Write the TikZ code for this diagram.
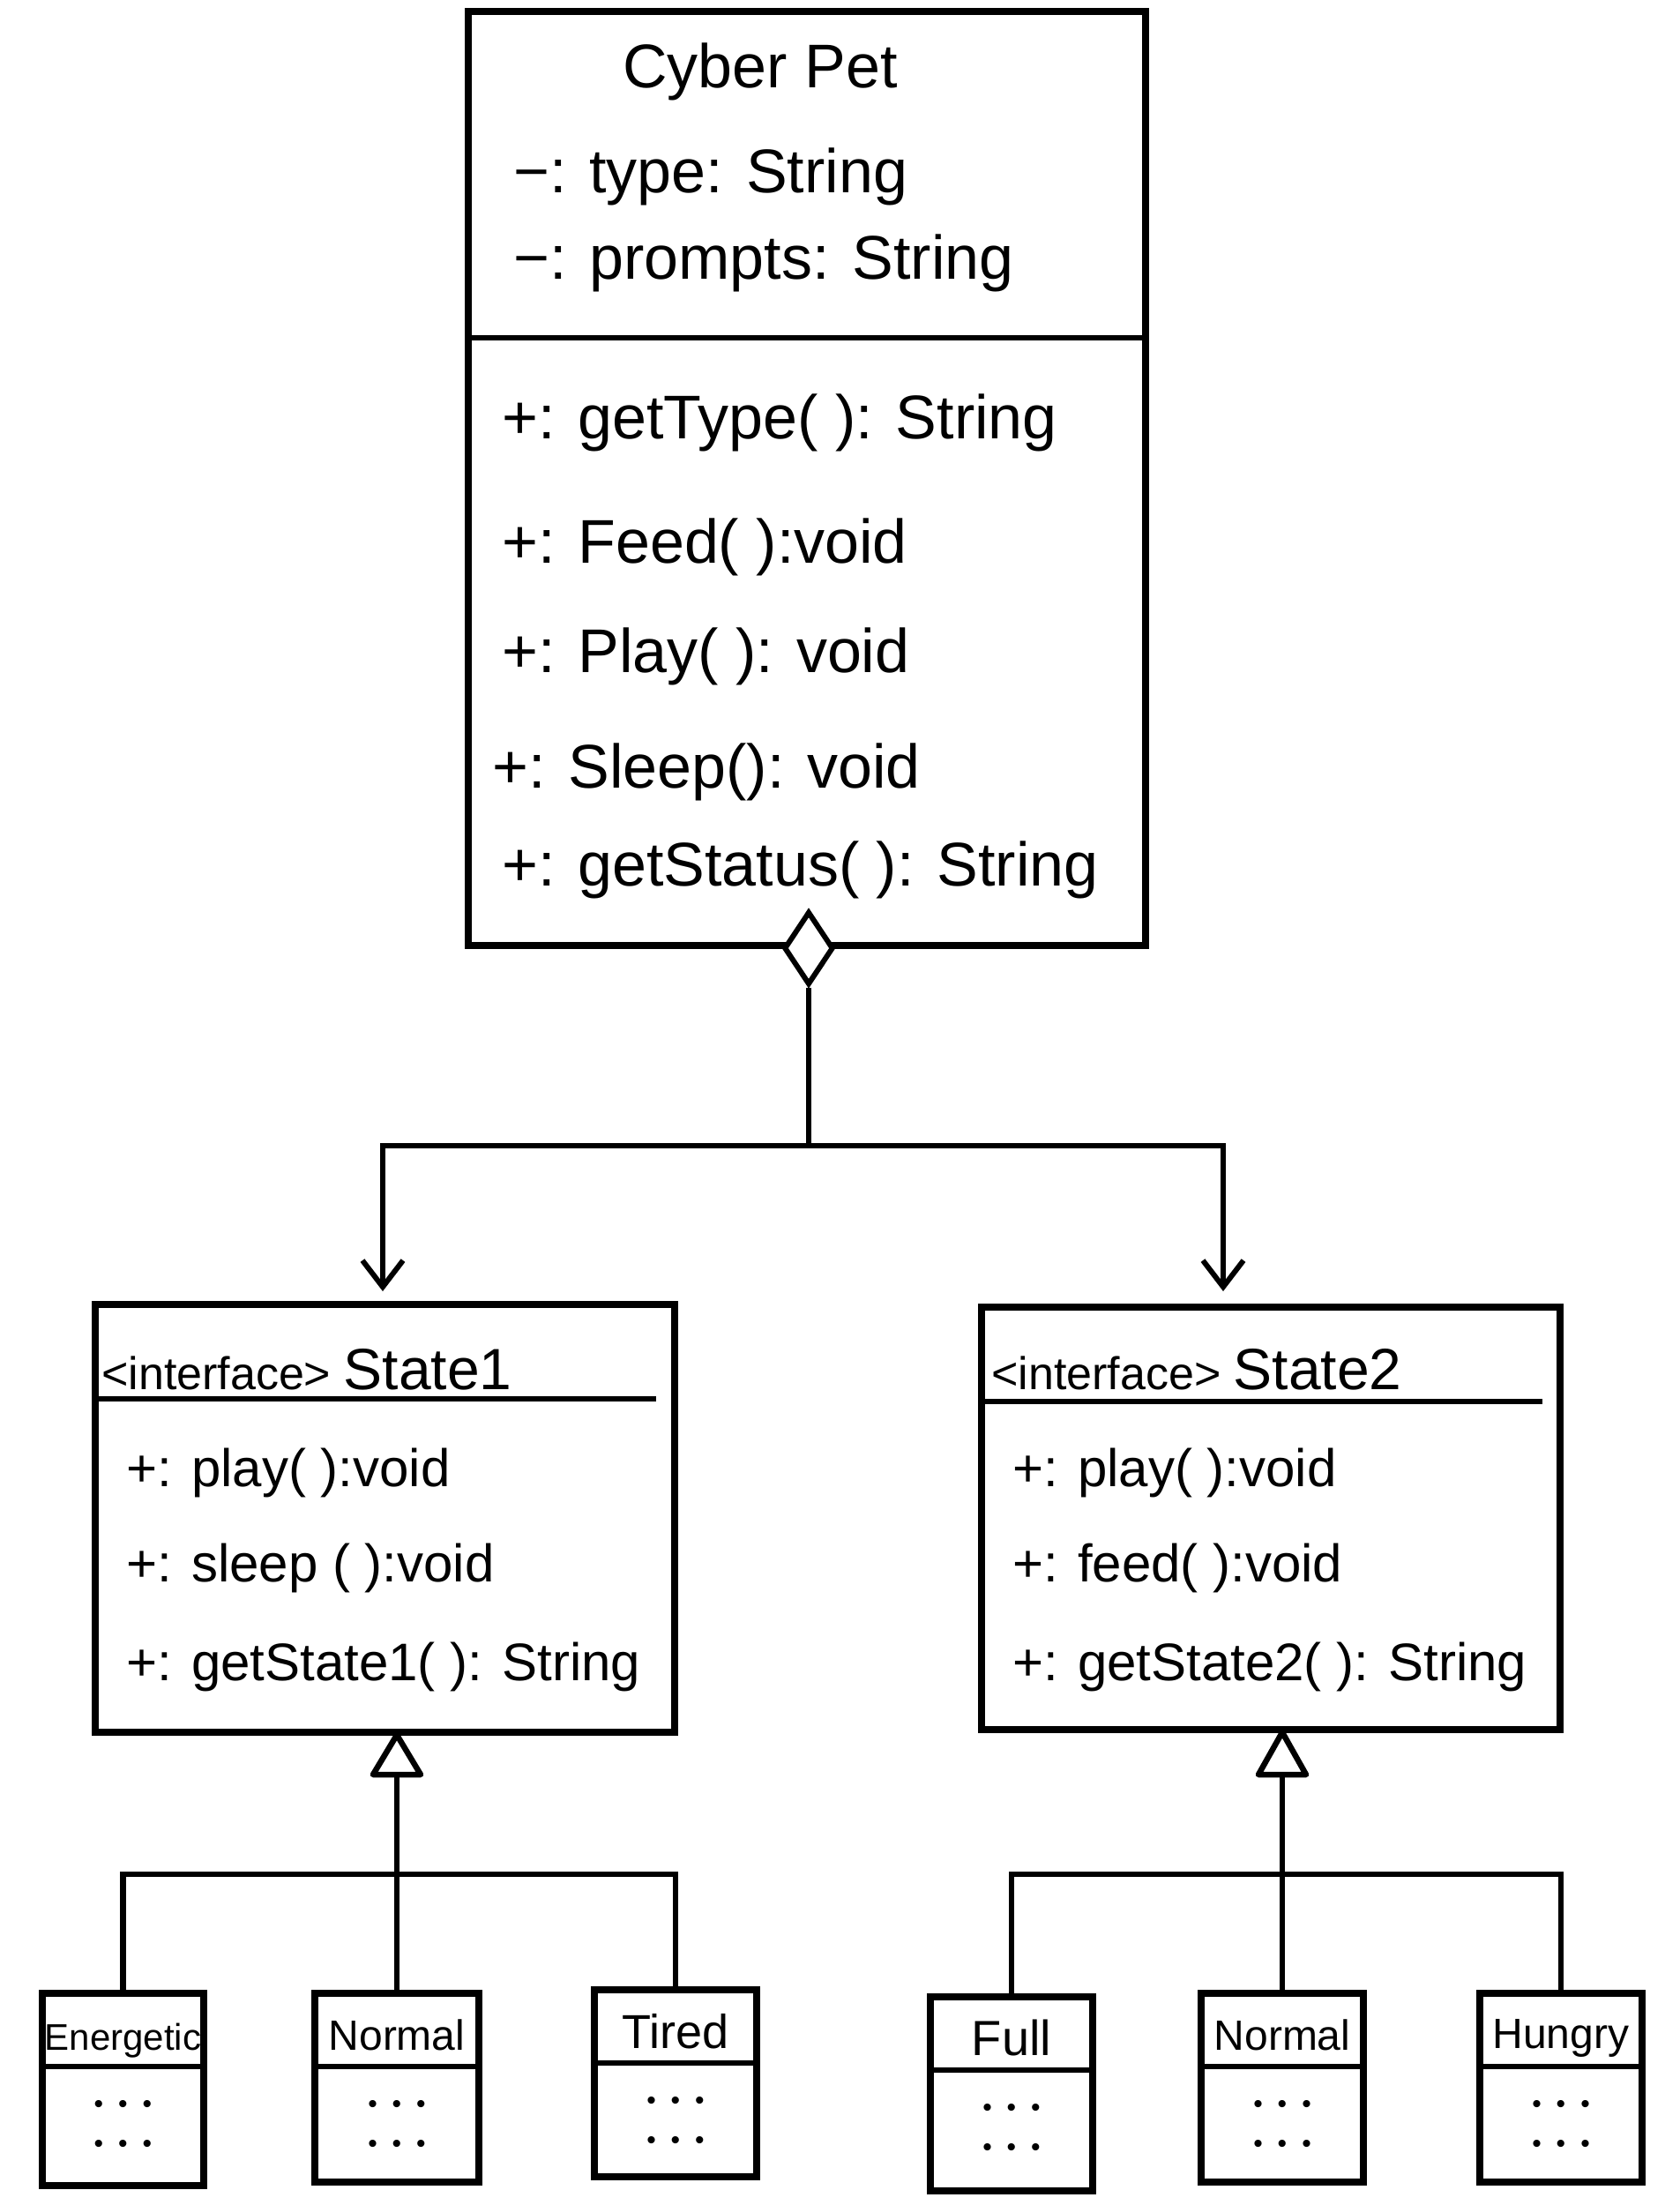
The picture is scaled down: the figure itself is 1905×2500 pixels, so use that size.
\documentclass[tikz,border=0pt]{standalone}
\usepackage{fontspec}
\setmainfont{Liberation Sans}
\usetikzlibrary{arrows.meta,shapes.geometric,calc}
\newcommand{\threedots}{•\hspace{17pt}•\hspace{17pt}•}
\begin{document}
\begin{tikzpicture}[x=1pt,y=-1pt,
  box/.style={draw, line width=7.5pt, rectangle, inner sep=0pt, outer sep=0pt, anchor=north west},
  sepline/.style={line width=6.5pt},
  conn/.style={line width=6.5pt},
  openhead/.style={-{Straight Barb[length=30pt,width=46pt,line width=6pt]}},
  bigtxt/.style={anchor=base west, inner sep=0pt, font=\fontsize{70}{84}\selectfont},
  midtxt/.style={anchor=base west, inner sep=0pt, font=\fontsize{60}{72}\selectfont},
  lbl/.style={anchor=base, inner sep=0pt, font=\fontsize{48}{56}\selectfont},
  dots/.style={anchor=base, inner sep=0pt, font=\fontsize{30}{34}\selectfont}
]
\useasboundingbox (0,0) rectangle (1905,2500);

% ---------- CyberPet ----------
\node[box, minimum width=768pt, minimum height=1059pt] (cp) at (531,13) {};
\draw[sepline] ($(cp.north west)+(0,370)$) -- ($(cp.north east)+(0,370)$);
\node[anchor=base, inner sep=0pt, font=\fontsize{70}{84}\selectfont] (cpname) at (862,99) {Cyber Pet};
\node[bigtxt] (cpa1) at (582,218) {−: type: String};
\node[bigtxt] (cpa2) at (582,316) {−: prompts: String};
\node[bigtxt] (cpm1) at (569,497) {+: getType( ): String};
\node[bigtxt] (cpm2) at (569,638) {+: Feed( ):void};
\node[bigtxt] (cpm3) at (569,762) {+: Play( ): void};
\node[bigtxt] (cpm4) at (558,893) {+: Sleep(): void};
\node[bigtxt] (cpm5) at (569,1004) {+: getStatus( ): String};

% ---------- State1 ----------
\node[box, minimum width=657pt, minimum height=485pt] (s1) at (108,1479) {};
\draw[sepline] ($(s1.north west)+(0,107)$) -- ($(s1.north east)+(-21,107)$);
\node[anchor=base west, inner sep=0pt] (s1name) at (115,1575)
  {\fontsize{52}{60}\selectfont <interface> \fontsize{66}{76}\selectfont State1};
\node[midtxt] (s1m1) at (143,1685) {+: play( ):void};
\node[midtxt] (s1m2) at (143,1793) {+: sleep ( ):void};
\node[midtxt] (s1m3) at (143,1905) {+: getState1( ): String};

% ---------- State2 ----------
\node[box, minimum width=656pt, minimum height=479pt] (s2) at (1113,1482) {};
\draw[sepline] ($(s2.north west)+(0,107)$) -- ($(s2.north east)+(-20,107)$);
\node[anchor=base west, inner sep=0pt] (s2name) at (1124,1575)
  {\fontsize{52}{60}\selectfont <interface> \fontsize{66}{76}\selectfont State2};
\node[midtxt] (s2m1) at (1148,1685) {+: play( ):void};
\node[midtxt] (s2m2) at (1148,1793) {+: feed( ):void};
\node[midtxt] (s2m3) at (1148,1905) {+: getState2( ): String};

% ---------- aggregation ----------
\node[diamond, draw, line width=6pt, fill=white, minimum width=56pt, minimum height=83pt, inner sep=0pt] (dia) at (917,1075) {};
\coordinate (j1) at (917,1299);
\coordinate (a1) at (434,1464);
\coordinate (a2) at (1387,1464);
\draw[conn] (dia.south) -- (j1);
\draw[conn, openhead] (j1) -| (a1);
\draw[conn, openhead] (j1) -| (a2);

% ---------- children of State1 ----------
\node[box, minimum width=183pt, minimum height=218pt] (e1) at (48,2260) {};
\node[box, minimum width=186pt, minimum height=214pt] (n1) at (357,2260) {};
\node[box, minimum width=184pt, minimum height=212pt] (ti) at (674,2256) {};
\foreach \b in {e1,n1,ti}{
  \draw[sepline] ($(\b.north west)+(0,83)$) -- ($(\b.north east)+(0,83)$);
  \node[dots] at ($(\b.north)+(0,135)$) {\threedots};
  \node[dots] at ($(\b.north)+(0,180)$) {\threedots};
}
\node[lbl, font=\fontsize{42}{50}\selectfont] (e1l) at ($(e1.north)+(0,64)$) {Energetic};
\node[lbl] (n1l) at ($(n1.north)+(0,64)$) {Normal};
\node[lbl, font=\fontsize{54}{62}\selectfont] (til) at ($(ti.north)+(0,66)$) {Tired};

\draw[conn, fill=white, line join=round] (450,1967) -- (423,2012) -- (477,2012) -- cycle;
\coordinate (t1b) at (450,2012);
\coordinate (j2) at (450,2125);
\draw[conn] (t1b) -- (j2);
\draw[conn] (e1.north) |- (j2) -| (ti.north);
\draw[conn] (j2) -- (n1.north);

% ---------- children of State2 ----------
\node[box, minimum width=184pt, minimum height=220pt] (fu) at (1055,2264) {};
\node[box, minimum width=184pt, minimum height=214pt] (n2) at (1362,2260) {};
\node[box, minimum width=184pt, minimum height=214pt] (hu) at (1678,2260) {};
\foreach \b in {fu,n2,hu}{
  \draw[sepline] ($(\b.north west)+(0,83)$) -- ($(\b.north east)+(0,83)$);
  \node[dots] at ($(\b.north)+(0,135)$) {\threedots};
  \node[dots] at ($(\b.north)+(0,180)$) {\threedots};
}
\node[lbl, font=\fontsize{56}{64}\selectfont] (ful) at ($(fu.north)+(0,66)$) {Full};
\node[lbl] (n2l) at ($(n2.north)+(0,64)$) {Normal};
\node[lbl] (hul) at ($(hu.north)+(0,62)$) {Hungry};

\draw[conn, fill=white, line join=round] (1454,1964) -- (1427,2012) -- (1481,2012) -- cycle;
\coordinate (t2b) at (1454,2012);
\coordinate (j3) at (1454,2125);
\draw[conn] (t2b) -- (j3);
\draw[conn] (fu.north) |- (j3) -| (hu.north);
\draw[conn] (j3) -- (n2.north);
\end{tikzpicture}
\end{document}
